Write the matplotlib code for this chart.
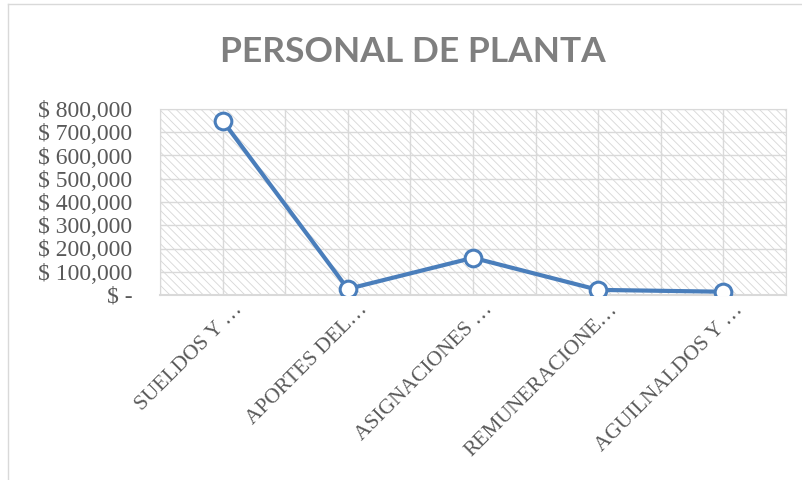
import matplotlib.pyplot as plt
import matplotlib.transforms as mtransforms
from matplotlib.lines import Line2D
import numpy as np

categorias = ['SUELDOS Y …', 'APORTES DEL…', 'ASIGNACIONES …',
              'REMUNERACIONE…', 'AGUILNALDOS Y …']
montos = [750000, 26000, 160000, 22000, 14000]
yticks = [0, 100000, 200000, 300000, 400000, 500000, 600000, 700000, 800000]
ylabels = ['$ -', '$ 100,000', '$ 200,000', '$ 300,000', '$ 400,000',
           '$ 500,000', '$ 600,000', '$ 700,000', '$ 800,000']

grid_col = '#d9d9d9'
text_col = '#595959'
azul = '#4a7ebb'
serif = ['Liberation Serif', 'DejaVu Serif']

plt.rcParams['hatch.linewidth'] = 0.65
plt.rcParams['hatch.color'] = '#d9d9d9'

fig = plt.figure(figsize=(8.03, 4.8), dpi=100)
ax = fig.add_axes([160/803, 1 - 295/480, 626/803, 186/480])

x = np.arange(len(categorias))
ax.set_xlim(-0.5, len(categorias) - 0.5)
ax.set_ylim(0, 800000)

# fondo rayado del area de trazado
ax.add_patch(plt.Rectangle((0, 0), 1, 1, transform=ax.transAxes,
                           facecolor='white', edgecolor='#d9d9d9',
                           hatch='\\\\\\\\', lw=0, zorder=0))

for yv in yticks[1:]:
    ax.axhline(yv, color=grid_col, lw=1, zorder=1)
for xv in np.arange(-0.5, len(categorias), 0.5):
    ax.axvline(xv, color=grid_col, lw=1, zorder=1)

ax.plot(x, montos, color=azul, lw=3, marker='o', markersize=12,
        markerfacecolor='white', markeredgecolor=azul, markeredgewidth=2.2,
        zorder=3)

for s in ax.spines.values():
    s.set_color(grid_col)
ax.spines['bottom'].set_linewidth(1.5)

ax.set_yticks(yticks)
ax.set_yticklabels(ylabels, family=serif, fontsize=17, color=text_col)
ax.tick_params(axis='y', length=0, pad=20)
ax.set_xticks([])

off = mtransforms.ScaledTranslation(0.17, -0.12, fig.dpi_scale_trans)
for i, lab in enumerate(categorias):
    ax.text(i, 0, lab, transform=ax.get_xaxis_transform() + off,
            rotation=45, ha='right', va='center', rotation_mode='anchor',
            family=serif, fontsize=15.5, color=text_col)

fig.text(412.5/803, 1 - 52/480, 'PERSONAL DE PLANTA', ha='center',
         va='center', family='Lato', fontweight='bold', fontsize=25.5,
         color='#7f7f7f')

# borde del area del grafico
fig.add_artist(Line2D([8/803, 1], [1 - 4/480, 1 - 4/480], color=grid_col,
                      lw=1, transform=fig.transFigure))
fig.add_artist(Line2D([8/803, 8/803], [0, 1 - 4/480], color=grid_col,
                      lw=1, transform=fig.transFigure))

fig.savefig('out.png', dpi=100)
